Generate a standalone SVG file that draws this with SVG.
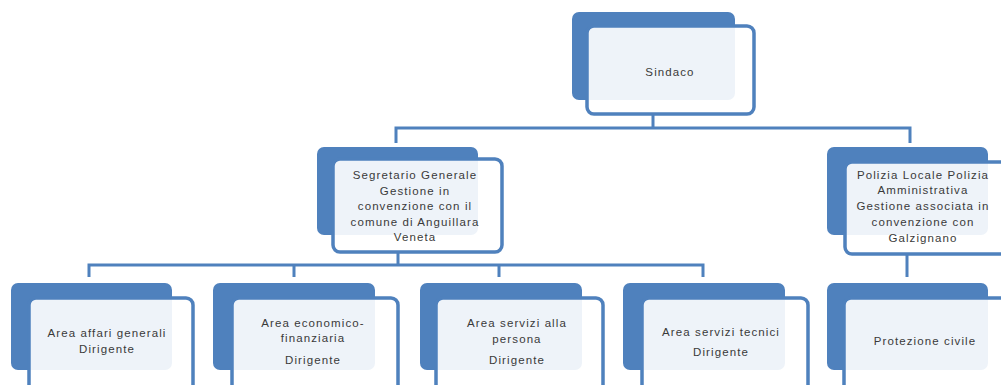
<svg xmlns="http://www.w3.org/2000/svg" width="1001" height="385" viewBox="0 0 1001 385">
<style>
.back{fill:#4F81BD}
.front{fill:#FFFFFF;fill-opacity:0.9;stroke:#4F81BD;stroke-width:3.5}
.t{font-family:"Liberation Sans",Arial,sans-serif;font-size:11.5px;letter-spacing:1.1px;fill:#3a3a3a;text-anchor:middle}
.c{fill:none;stroke:#4F81BD;stroke-width:3}
</style>
<rect width="1001" height="385" fill="#FFFFFF"/>
<g id="connectors">
<path class="c" d="M653 115V128M396 143V128H910V143"/>
<path class="c" d="M398 253V265M89 277V265H703V277M294 265V277M499 265V277"/>
<path class="c" d="M907 255V277"/>
</g>
<g id="sindaco">
<rect class="back" x="572" y="12" width="163" height="88" rx="7"/>
<rect class="front" x="587" y="26" width="167" height="88" rx="7"/>
<text class="t" x="670" y="76">Sindaco</text>
</g>
<g id="segretario">
<rect class="back" x="317" y="147" width="161" height="88" rx="7"/>
<rect class="front" x="333" y="159" width="169" height="93" rx="7"/>
<text class="t" x="415" y="179">Segretario  Generale</text>
<text class="t" x="415" y="195">Gestione in</text>
<text class="t" x="415" y="210">convenzione con il</text>
<text class="t" x="415" y="226">comune di Anguillara</text>
<text class="t" x="415" y="241">Veneta</text>
</g>
<g id="polizia">
<rect class="back" x="827" y="147" width="161" height="88" rx="7"/>
<rect class="front" x="845" y="162" width="170" height="92" rx="7"/>
<text class="t" x="923" y="179">Polizia Locale  Polizia</text>
<text class="t" x="923" y="194">Amministrativa</text>
<text class="t" x="923" y="210">Gestione associata in</text>
<text class="t" x="923" y="226">convenzione con</text>
<text class="t" x="923" y="242">Galzignano</text>
</g>
<g id="affari">
<rect class="back" x="11" y="283" width="161" height="87" rx="7"/>
<rect class="front" x="29" y="298" width="164" height="100" rx="7"/>
<text class="t" x="107" y="337">Area  affari generali</text>
<text class="t" x="107" y="353">Dirigente</text>
</g>
<g id="economico">
<rect class="back" x="213" y="283" width="162" height="87" rx="7"/>
<rect class="front" x="232" y="298" width="166" height="100" rx="7"/>
<text class="t" x="313" y="327">Area  economico-</text>
<text class="t" x="313" y="342">finanziaria</text>
<text class="t" x="313" y="364">Dirigente</text>
</g>
<g id="persona">
<rect class="back" x="420" y="283" width="162" height="87" rx="7"/>
<rect class="front" x="436" y="298" width="167" height="100" rx="7"/>
<text class="t" x="517" y="327">Area servizi alla</text>
<text class="t" x="517" y="343">persona</text>
<text class="t" x="517" y="364">Dirigente</text>
</g>
<g id="tecnici">
<rect class="back" x="623" y="283" width="162" height="87" rx="7"/>
<rect class="front" x="642" y="298" width="166" height="100" rx="7"/>
<text class="t" x="721" y="336">Area servizi tecnici</text>
<text class="t" x="721" y="356">Dirigente</text>
</g>
<g id="protezione">
<rect class="back" x="827" y="283" width="161" height="87" rx="7"/>
<rect class="front" x="844" y="298" width="170" height="100" rx="7"/>
<text class="t" x="925" y="345">Protezione civile</text>
</g>
</svg>
